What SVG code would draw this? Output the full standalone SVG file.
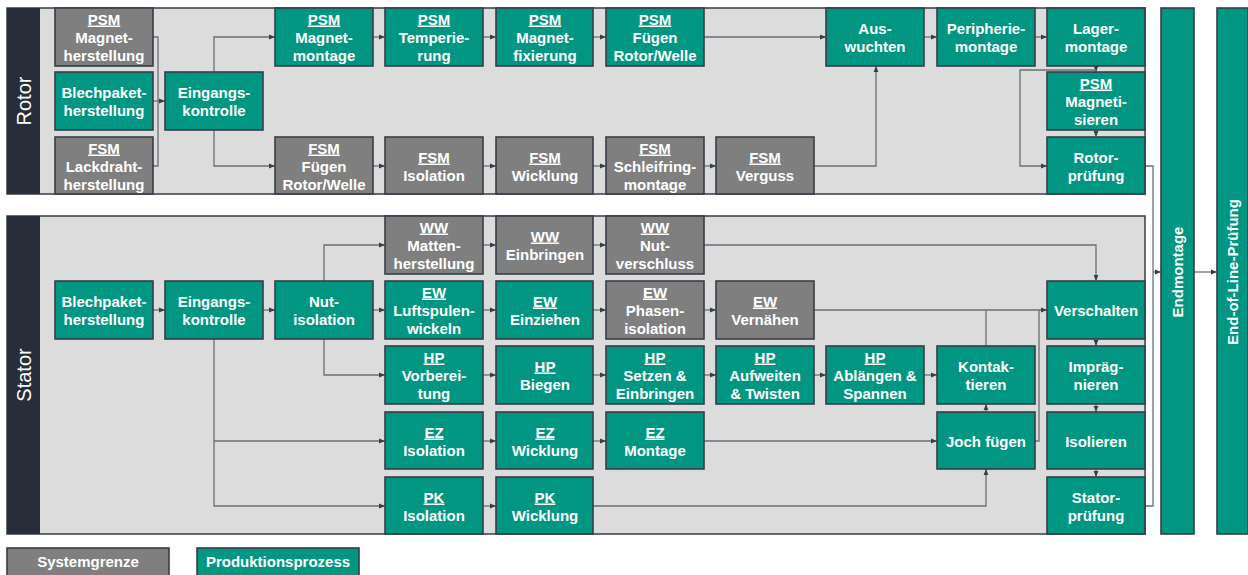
<svg xmlns="http://www.w3.org/2000/svg" width="1248" height="575" viewBox="0 0 1248 575">
<style>
.p{fill:#009682;stroke:#383d47;stroke-width:1.6}
.g{fill:#7f7f7f;stroke:#383d47;stroke-width:1.6}
.pan{fill:#dcdcdc;stroke:#383d47;stroke-width:1.5}
.band{fill:#272e39}
text{font-family:"Liberation Sans",Arial,sans-serif;font-weight:bold;font-size:15px;fill:#ffffff;text-anchor:middle}
.u{text-decoration:underline}
.lab{font-weight:normal;font-size:20px}
.c path{fill:none;stroke:#6a6e75;stroke-width:1.3}
.c path.m{marker-end:url(#a)}
</style>
<defs>
<marker id="a" markerWidth="6" markerHeight="6" refX="6" refY="3" orient="auto" markerUnits="userSpaceOnUse"><path d="M0,0.6 L6,3 L0,5.4z" fill="#383d47"/></marker>
</defs>

<g id="rotor-panel">
<rect class="pan" x="7" y="8" width="1138" height="186"/>
<rect class="band" x="7" y="8" width="33" height="186"/>
<text class="lab" transform="translate(31,101) rotate(-90)">Rotor</text>
</g>
<g id="stator-panel">
<rect class="pan" x="7" y="216" width="1138" height="318"/>
<rect class="band" x="7" y="216" width="33" height="318"/>
<text class="lab" transform="translate(31,375) rotate(-90)">Stator</text>
</g>

<g class="c" id="connectors">
<path d="M153 37 H158 V166 H153"/>
<path class="m" d="M153 101 H165"/>
<path class="m" d="M214 72 V37 H275"/>
<path class="m" d="M214 130 V166 H275"/>
<path class="m" d="M373 37 H385"/>
<path class="m" d="M483 37 H496"/>
<path class="m" d="M593 37 H606"/>
<path class="m" d="M704 37 H826"/>
<path class="m" d="M924 37 H937"/>
<path class="m" d="M1035 37 H1047"/>
<path class="m" d="M373 166 H385"/>
<path class="m" d="M483 166 H496"/>
<path class="m" d="M593 166 H606"/>
<path class="m" d="M704 166 H716"/>
<path class="m" d="M814 166 H876 V66"/>
<path class="m" d="M1096 66 V72"/>
<path class="m" d="M1096 70 H1020 V166 H1047"/>
<path class="m" d="M1096 130 V137"/>
<path d="M1145 166 H1153 V506 H1145"/>
<path class="m" d="M1153 272 H1161"/>
<path class="m" d="M1194 272 H1217"/>

<path class="m" d="M153 310 H165"/>
<path class="m" d="M263 310 H275"/>
<path class="m" d="M373 310 H385"/>
<path class="m" d="M324 281 V245 H385"/>
<path class="m" d="M324 339 V375 H385"/>
<path class="m" d="M214 339 V506 H385"/>
<path class="m" d="M214 441 H385"/>
<path class="m" d="M483 245 H496"/>
<path class="m" d="M593 245 H606"/>
<path class="m" d="M704 245 H1096 V281"/>
<path class="m" d="M483 310 H496"/>
<path class="m" d="M593 310 H606"/>
<path class="m" d="M704 310 H716"/>
<path class="m" d="M814 310 H1047"/>
<path d="M986 346 V310"/>
<path d="M1035 441 H1039 V310"/>
<path class="m" d="M483 375 H496"/>
<path class="m" d="M593 375 H606"/>
<path class="m" d="M704 375 H716"/>
<path class="m" d="M814 375 H826"/>
<path class="m" d="M924 375 H937"/>
<path class="m" d="M483 441 H496"/>
<path class="m" d="M593 441 H606"/>
<path class="m" d="M704 441 H937"/>
<path class="m" d="M986 412 V404"/>
<path class="m" d="M483 506 H496"/>
<path class="m" d="M593 506 H986 V469"/>
<path class="m" d="M1096 339 V346"/>
<path class="m" d="M1096 404 V412"/>
<path class="m" d="M1096 469 V477"/>
</g>

<!-- Rotor nodes -->
<g id="r-magnetherstellung"><rect class="g" x="55" y="8" width="98" height="58"/><text><tspan class="u" x="104" y="24.5">PSM</tspan><tspan x="104" y="42.5">Magnet-</tspan><tspan x="104" y="60.5">herstellung</tspan></text></g>
<g id="r-blechpaket"><rect class="p" x="55" y="72" width="98" height="58"/><text><tspan x="104" y="97.5">Blechpaket-</tspan><tspan x="104" y="115.5">herstellung</tspan></text></g>
<g id="r-lackdraht"><rect class="g" x="55" y="137" width="98" height="57"/><text><tspan class="u" x="104" y="153.5">FSM</tspan><tspan x="104" y="171.5">Lackdraht-</tspan><tspan x="104" y="189.5">herstellung</tspan></text></g>
<g id="r-eingang"><rect class="p" x="165" y="72" width="98" height="58"/><text><tspan x="214" y="97.5">Eingangs-</tspan><tspan x="214" y="115.5">kontrolle</tspan></text></g>
<g id="r-magnetmontage"><rect class="p" x="275" y="8" width="98" height="58"/><text><tspan class="u" x="324" y="24.5">PSM</tspan><tspan x="324" y="42.5">Magnet-</tspan><tspan x="324" y="60.5">montage</tspan></text></g>
<g id="r-temperierung"><rect class="p" x="385" y="8" width="98" height="58"/><text><tspan class="u" x="434" y="24.5">PSM</tspan><tspan x="434" y="42.5">Temperie-</tspan><tspan x="434" y="60.5">rung</tspan></text></g>
<g id="r-magnetfixierung"><rect class="p" x="496" y="8" width="97" height="58"/><text><tspan class="u" x="545" y="24.5">PSM</tspan><tspan x="545" y="42.5">Magnet-</tspan><tspan x="545" y="60.5">fixierung</tspan></text></g>
<g id="r-psm-fuegen"><rect class="p" x="606" y="8" width="98" height="58"/><text><tspan class="u" x="655" y="24.5">PSM</tspan><tspan x="655" y="42.5">Fügen</tspan><tspan x="655" y="60.5">Rotor/Welle</tspan></text></g>
<g id="r-auswuchten"><rect class="p" x="826" y="8" width="98" height="58"/><text><tspan x="875" y="33.5">Aus-</tspan><tspan x="875" y="51.5">wuchten</tspan></text></g>
<g id="r-peripherie"><rect class="p" x="937" y="8" width="98" height="58"/><text><tspan x="986" y="33.5">Peripherie-</tspan><tspan x="986" y="51.5">montage</tspan></text></g>
<g id="r-lager"><rect class="p" x="1047" y="8" width="98" height="58"/><text><tspan x="1096" y="33.5">Lager-</tspan><tspan x="1096" y="51.5">montage</tspan></text></g>
<g id="r-magnetisieren"><rect class="p" x="1047" y="72" width="98" height="58"/><text><tspan class="u" x="1096" y="88.5">PSM</tspan><tspan x="1096" y="106.5">Magneti-</tspan><tspan x="1096" y="124.5">sieren</tspan></text></g>
<g id="r-rotorpruefung"><rect class="p" x="1047" y="137" width="98" height="57"/><text><tspan x="1096" y="162.5">Rotor-</tspan><tspan x="1096" y="180.5">prüfung</tspan></text></g>
<g id="r-fsm-fuegen"><rect class="g" x="275" y="137" width="98" height="57"/><text><tspan class="u" x="324" y="153.5">FSM</tspan><tspan x="324" y="171.5">Fügen</tspan><tspan x="324" y="189.5">Rotor/Welle</tspan></text></g>
<g id="r-fsm-isolation"><rect class="g" x="385" y="137" width="98" height="57"/><text><tspan class="u" x="434" y="162.5">FSM</tspan><tspan x="434" y="180.5">Isolation</tspan></text></g>
<g id="r-fsm-wicklung"><rect class="g" x="496" y="137" width="97" height="57"/><text><tspan class="u" x="545" y="162.5">FSM</tspan><tspan x="545" y="180.5">Wicklung</tspan></text></g>
<g id="r-fsm-schleifring"><rect class="g" x="606" y="137" width="98" height="57"/><text><tspan class="u" x="655" y="153.5">FSM</tspan><tspan x="655" y="171.5">Schleifring-</tspan><tspan x="655" y="189.5">montage</tspan></text></g>
<g id="r-fsm-verguss"><rect class="g" x="716" y="137" width="98" height="57"/><text><tspan class="u" x="765" y="162.5">FSM</tspan><tspan x="765" y="180.5">Verguss</tspan></text></g>

<!-- Stator nodes -->
<g id="s-blechpaket"><rect class="p" x="55" y="281" width="98" height="58"/><text><tspan x="104" y="306.5">Blechpaket-</tspan><tspan x="104" y="324.5">herstellung</tspan></text></g>
<g id="s-eingang"><rect class="p" x="165" y="281" width="98" height="58"/><text><tspan x="214" y="306.5">Eingangs-</tspan><tspan x="214" y="324.5">kontrolle</tspan></text></g>
<g id="s-nutisolation"><rect class="p" x="275" y="281" width="98" height="58"/><text><tspan x="324" y="306.5">Nut-</tspan><tspan x="324" y="324.5">isolation</tspan></text></g>
<g id="s-ww-matten"><rect class="g" x="385" y="216" width="98" height="58"/><text><tspan class="u" x="434" y="232.5">WW</tspan><tspan x="434" y="250.5">Matten-</tspan><tspan x="434" y="268.5">herstellung</tspan></text></g>
<g id="s-ww-einbringen"><rect class="g" x="496" y="216" width="97" height="58"/><text><tspan class="u" x="545" y="241.5">WW</tspan><tspan x="545" y="259.5">Einbringen</tspan></text></g>
<g id="s-ww-nutverschluss"><rect class="g" x="606" y="216" width="98" height="58"/><text><tspan class="u" x="655" y="232.5">WW</tspan><tspan x="655" y="250.5">Nut-</tspan><tspan x="655" y="268.5">verschluss</tspan></text></g>
<g id="s-ew-luftspulen"><rect class="p" x="385" y="281" width="98" height="58"/><text><tspan class="u" x="434" y="297.5">EW</tspan><tspan x="434" y="315.5">Luftspulen-</tspan><tspan x="434" y="333.5">wickeln</tspan></text></g>
<g id="s-ew-einziehen"><rect class="p" x="496" y="281" width="97" height="58"/><text><tspan class="u" x="545" y="306.5">EW</tspan><tspan x="545" y="324.5">Einziehen</tspan></text></g>
<g id="s-ew-phasen"><rect class="g" x="606" y="281" width="98" height="58"/><text><tspan class="u" x="655" y="297.5">EW</tspan><tspan x="655" y="315.5">Phasen-</tspan><tspan x="655" y="333.5">isolation</tspan></text></g>
<g id="s-ew-vernaehen"><rect class="g" x="716" y="281" width="98" height="58"/><text><tspan class="u" x="765" y="306.5">EW</tspan><tspan x="765" y="324.5">Vernähen</tspan></text></g>
<g id="s-hp-vorbereitung"><rect class="p" x="385" y="346" width="98" height="58"/><text><tspan class="u" x="434" y="362.5">HP</tspan><tspan x="434" y="380.5">Vorberei-</tspan><tspan x="434" y="398.5">tung</tspan></text></g>
<g id="s-hp-biegen"><rect class="p" x="496" y="346" width="97" height="58"/><text><tspan class="u" x="545" y="371.5">HP</tspan><tspan x="545" y="389.5">Biegen</tspan></text></g>
<g id="s-hp-setzen"><rect class="p" x="606" y="346" width="98" height="58"/><text><tspan class="u" x="655" y="362.5">HP</tspan><tspan x="655" y="380.5">Setzen &amp;</tspan><tspan x="655" y="398.5">Einbringen</tspan></text></g>
<g id="s-hp-aufweiten"><rect class="p" x="716" y="346" width="98" height="58"/><text><tspan class="u" x="765" y="362.5">HP</tspan><tspan x="765" y="380.5">Aufweiten</tspan><tspan x="765" y="398.5">&amp; Twisten</tspan></text></g>
<g id="s-hp-ablaengen"><rect class="p" x="826" y="346" width="98" height="58"/><text><tspan class="u" x="875" y="362.5">HP</tspan><tspan x="875" y="380.5">Ablängen &amp;</tspan><tspan x="875" y="398.5">Spannen</tspan></text></g>
<g id="s-kontaktieren"><rect class="p" x="937" y="346" width="98" height="58"/><text><tspan x="986" y="371.5">Kontak-</tspan><tspan x="986" y="389.5">tieren</tspan></text></g>
<g id="s-joch"><rect class="p" x="937" y="412" width="98" height="57"/><text><tspan x="986" y="446.5">Joch fügen</tspan></text></g>
<g id="s-ez-isolation"><rect class="p" x="385" y="412" width="98" height="57"/><text><tspan class="u" x="434" y="437.5">EZ</tspan><tspan x="434" y="455.5">Isolation</tspan></text></g>
<g id="s-ez-wicklung"><rect class="p" x="496" y="412" width="97" height="57"/><text><tspan class="u" x="545" y="437.5">EZ</tspan><tspan x="545" y="455.5">Wicklung</tspan></text></g>
<g id="s-ez-montage"><rect class="p" x="606" y="412" width="98" height="57"/><text><tspan class="u" x="655" y="437.5">EZ</tspan><tspan x="655" y="455.5">Montage</tspan></text></g>
<g id="s-pk-isolation"><rect class="p" x="385" y="477" width="98" height="57"/><text><tspan class="u" x="434" y="502.5">PK</tspan><tspan x="434" y="520.5">Isolation</tspan></text></g>
<g id="s-pk-wicklung"><rect class="p" x="496" y="477" width="97" height="57"/><text><tspan class="u" x="545" y="502.5">PK</tspan><tspan x="545" y="520.5">Wicklung</tspan></text></g>
<g id="s-verschalten"><rect class="p" x="1047" y="281" width="98" height="58"/><text><tspan x="1096" y="315.5">Verschalten</tspan></text></g>
<g id="s-impraegnieren"><rect class="p" x="1047" y="346" width="98" height="58"/><text><tspan x="1096" y="371.5">Impräg-</tspan><tspan x="1096" y="389.5">nieren</tspan></text></g>
<g id="s-isolieren"><rect class="p" x="1047" y="412" width="98" height="57"/><text><tspan x="1096" y="446.5">Isolieren</tspan></text></g>
<g id="s-statorpruefung"><rect class="p" x="1047" y="477" width="98" height="57"/><text><tspan x="1096" y="502.5">Stator-</tspan><tspan x="1096" y="520.5">prüfung</tspan></text></g>

<g id="endmontage"><rect class="p" x="1161" y="8" width="33" height="526"/><text transform="translate(1183,272) rotate(-90)">Endmontage</text></g>
<g id="eol"><rect class="p" x="1217" y="8" width="31" height="526"/><text transform="translate(1238,272) rotate(-90)">End-of-Line-Prüfung</text></g>

<g id="legend-systemgrenze"><rect class="g" x="7" y="548" width="162" height="30"/><text x="88" y="567">Systemgrenze</text></g>
<g id="legend-produktionsprozess"><rect class="p" x="197" y="548" width="162" height="30"/><text x="278" y="567">Produktionsprozess</text></g>
</svg>
